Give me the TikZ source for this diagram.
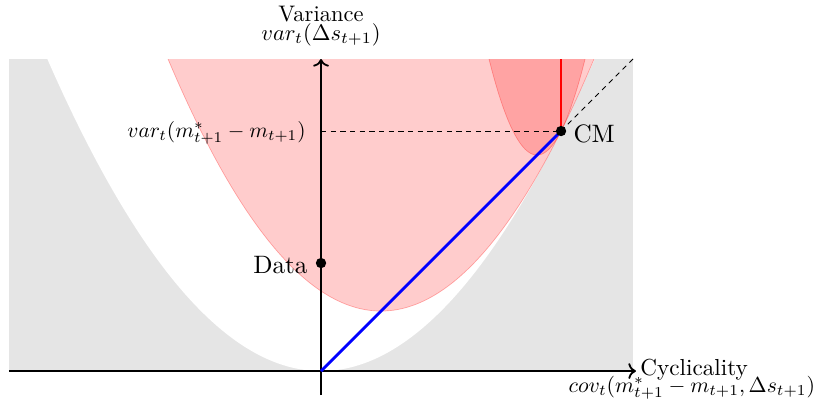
\documentclass[tikz,border=0pt]{standalone}
\usetikzlibrary{arrows.meta}
\begin{document}
\begin{tikzpicture}[x=3.75cm,y=3.75cm,
  axis/.style={thick,->},
  dot/.style={circle,fill=black,inner sep=0pt,minimum size=4.6pt},
  lbl/.style={inner sep=0pt},
  big/.style={lbl,scale=1.12},
  mth/.style={lbl,scale=0.965},
  dsh/.style={dash pattern=on 2.3pt off 2pt},
  pinkreg/.style={fill=red,fill opacity=0.2,draw=red,draw opacity=0.3,line width=0.3pt}]
\useasboundingbox (-1.3375,-0.1667) rectangle (2.054,1.546);
\begin{scope}
  \clip (-1.3,0) rectangle (1.3,1.3);
  \fill[black!10] (-1.3,0) rectangle (1.3,1.3);
  \fill[white] plot[domain=-1.15:1.15,samples=120] (\x,{\x*\x}) -- cycle;
  \filldraw[pinkreg] plot[domain=-0.6787:1.1787,samples=120] (\x,{4/3*(\x-0.25)^2+0.25}) -- cycle;
  \filldraw[pinkreg] plot[domain=0.6764:1.1236,samples=80] (\x,{10*(\x-0.9)^2+0.9}) -- cycle;
\end{scope}
\coordinate (O) at (0,0);
\coordinate (CM) at (1,1);
\coordinate (Y1) at (0,1);
\coordinate (TR) at (1.3,1.3);
\coordinate (RT) at (1,1.3);
\coordinate (XL) at (-1.3,0);
\coordinate (XR) at (1.312,0);
\coordinate (YB) at (0,-0.1);
\coordinate (YT) at (0,1.3);
\coordinate (D) at (0,0.45);
\draw[dsh] (Y1) -- (CM);
\draw[dsh] (CM) -- (TR);
\draw[axis] (XL) -- (XR);
\draw[axis] (YB) -- (YT);
\draw[blue,line width=1.3pt] (O) -- (CM);
\draw[red,line width=1.3pt] (CM) -- (RT);
\node[dot] (cmdot) at (CM) {};
\node[dot] (datadot) at (D) {};
\node[lbl,anchor=base] (vtitle) at (0,1.458) {Variance};
\node[lbl,anchor=base] (vsub) at (0,1.377) {$var_t(\Delta s_{t+1})$};
\node[lbl,scale=0.95,anchor=base east] (vm) at (-0.0625,0.975) {$var_t(m^*_{t+1}-m_{t+1})$};
\node[big,anchor=base east] (dl) at (-0.054,0.408) {Data};
\node[big,anchor=base west] (cml) at (1.05,0.954) {CM};
\node[lbl,scale=1.03,anchor=base west] (ctitle) at (1.329,-0.019) {Cyclicality};
\node[mth,anchor=base] (csub) at (1.545,-0.0875) {$cov_t(m^*_{t+1}-m_{t+1},\Delta s_{t+1})$};
\end{tikzpicture}
\end{document}
